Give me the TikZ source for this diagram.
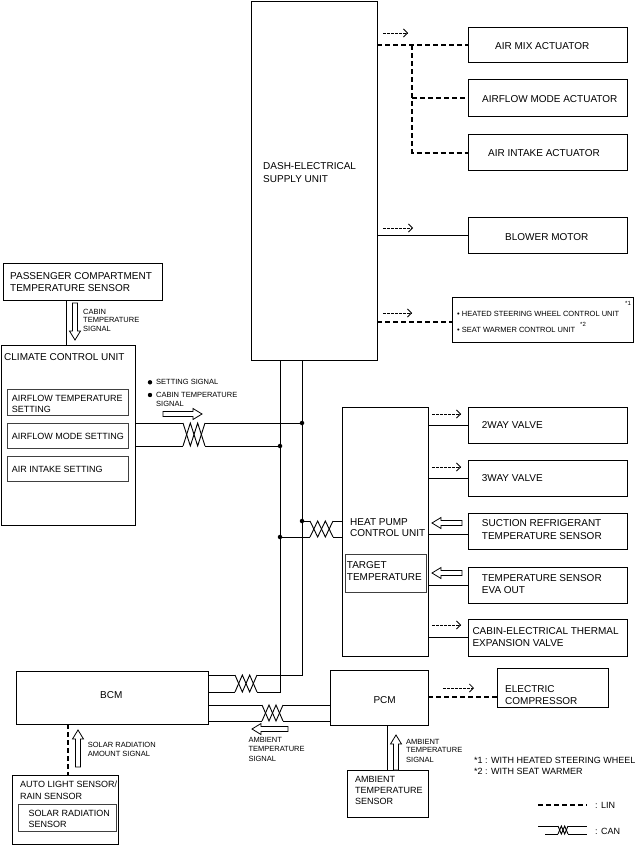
\documentclass[tikz,border=0pt]{standalone}
\usepackage{fontspec}
\setmainfont{Liberation Sans}
\usetikzlibrary{arrows.meta,calc}
\tikzset{
  box/.style={draw, line width=1pt, inner sep=0pt, outer sep=0pt, rectangle},
  subbox/.style={box, draw=black!75},
  wire/.style={line width=0.9pt},
  lin/.style={line width=2pt, dash pattern=on 5pt off 3pt},
  sig/.style={line width=0.7pt, dash pattern=on 2.5pt off 1.5pt, -{Straight Barb[length=4pt,width=8pt,line width=0.8pt]}},
  barrow/.style={line width=0.8pt, line join=miter, fill=white},
  txt/.style={inner sep=0pt, anchor=base west, font=\fontsize{10}{12}\selectfont},
  mid/.style={inner sep=0pt, anchor=base west, font=\fontsize{9}{11}\selectfont},
  sm/.style={inner sep=0pt, anchor=base west, font=\fontsize{7.5}{9}\selectfont},
  fn/.style={inner sep=0pt, anchor=base west, font=\fontsize{9}{11}\selectfont},
  supr/.style={inner sep=0pt, anchor=base west, font=\fontsize{6}{7}\selectfont},
  jdot/.style={circle, fill, inner sep=0pt, minimum size=4.5pt}
}
\newcommand\bx[6][box]{\node[#1,minimum width={(#5-#3)*1pt},minimum height={(#6-#4)*1pt}] (#2) at ({(#3+#5)/2},{(#4+#6)/2}) {};}
\newcommand\tx[5][txt]{\node[#1] (#2) at (#3,#4) {#5};}
% twist between named coords: top-left, top-right, bottom-left, bottom-right
\newcommand\twistc[4]{%
  \draw[wire] (#1) -- ($(#3)!1/3!(#4)$) -- ($(#1)!2/3!(#2)$) -- (#4);
  \draw[wire] (#3) -- ($(#1)!1/3!(#2)$) -- ($(#3)!2/3!(#4)$) -- (#2);}
% block arrows
\newcommand\rarr[3]{\draw[barrow] (#1,#3-2.5) -- (#2-9,#3-2.5) -- (#2-9,#3-5.5) -- (#2,#3) -- (#2-9,#3+5.5) -- (#2-9,#3+2.5) -- (#1,#3+2.5) -- cycle;}
\newcommand\larr[3]{\draw[barrow] (#1,#3) -- (#1+9,#3-5.5) -- (#1+9,#3-2.5) -- (#2,#3-2.5) -- (#2,#3+2.5) -- (#1+9,#3+2.5) -- (#1+9,#3+5.5) -- cycle;}
\newcommand\uarr[3]{\draw[barrow] (#1,#2) -- (#1+5.5,#2+9) -- (#1+2.5,#2+9) -- (#1+2.5,#3) -- (#1-2.5,#3) -- (#1-2.5,#2+9) -- (#1-5.5,#2+9) -- cycle;}
\newcommand\darr[3]{\draw[barrow] (#1,#3) -- (#1+5.5,#3-9) -- (#1+2.5,#3-9) -- (#1+2.5,#2) -- (#1-2.5,#2) -- (#1-2.5,#3-9) -- (#1-5.5,#3-9) -- cycle;}
\begin{document}
\begin{tikzpicture}[x=1pt,y=-1pt]
\useasboundingbox (0,0) rectangle (640,845);
% ---------- boxes
\bx{desu}{251}{1.5}{377}{360}
\bx{amix}{468}{28}{627}{63}
\bx{afm}{468}{80}{627}{117}
\bx{ain}{468}{135}{627}{171}
\bx{blow}{468}{217}{627}{253}
\bx{heat}{452}{297}{633}{342}
\bx{pcts}{3}{263}{162}{300}
\bx{ccu}{1}{345}{135}{525}
\bx[subbox]{s1}{7}{389}{128}{415}
\bx[subbox]{s2}{7}{423}{128}{448}
\bx[subbox]{s3}{7}{456}{128}{481}
\bx{hp}{342}{407}{428}{656}
\bx[subbox]{tgt}{345}{554}{426}{592}
\bx{v2}{468}{407}{627}{443}
\bx{v3}{468}{460}{627}{496}
\bx{suc}{468}{513}{627}{549}
\bx{eva}{468}{567}{627}{603}
\bx{cet}{468}{619}{627}{656}
\bx{bcm}{16}{671}{208}{724}
\bx{pcm}{330}{670}{428}{725}
\bx{ec}{497}{668}{608}{707}
\bx{als}{12}{775}{118}{844}
\bx[subbox]{srs}{18}{804}{116}{831}
\bx{ats}{347}{770}{428}{817}
% ---------- texts
\tx{t1}{263}{170}{DASH-ELECTRICAL}
\tx{t2}{263}{182.5}{SUPPLY UNIT}
\tx{t3}{495}{50}{AIR MIX ACTUATOR}
\tx{t4}{482}{102.3}{AIRFLOW MODE ACTUATOR}
\tx{t5}{488}{156.5}{AIR INTAKE ACTUATOR}
\tx{t6}{505}{240.7}{BLOWER MOTOR}
\tx[sm]{t7}{457}{316.7}{• HEATED STEERING WHEEL CONTROL UNIT}
\tx[supr]{t8}{625}{305}{*1}
\tx[sm]{t9}{457}{332.7}{• SEAT WARMER CONTROL UNIT}
\tx[supr]{t10}{580}{326.7}{*2}
\tx{t11}{10}{279}{PASSENGER COMPARTMENT}
\tx{t12}{10}{291}{TEMPERATURE SENSOR}
\tx[sm]{t13}{83}{314}{CABIN}
\tx[sm]{t14}{83}{322.7}{TEMPERATURE}
\tx[sm]{t15}{83}{331}{SIGNAL}
\tx{t16}{4}{360.7}{CLIMATE CONTROL UNIT}
\tx[mid]{t17}{11.7}{401}{AIRFLOW TEMPERATURE}
\tx[mid]{t18}{11.7}{412}{SETTING}
\tx[mid]{t19}{11.7}{439.5}{AIRFLOW MODE SETTING}
\tx[mid]{t20}{11.7}{472}{AIR INTAKE SETTING}
\tx[sm]{t21}{156}{384.7}{SETTING SIGNAL}
\tx[sm]{t22}{156}{397.7}{CABIN TEMPERATURE}
\tx[sm]{t23}{156}{406.7}{SIGNAL}
\tx{t24}{350}{525}{HEAT PUMP}
\tx{t25}{350}{536.7}{CONTROL UNIT}
\tx{t26}{346.7}{568.3}{TARGET}
\tx{t27}{346.7}{580}{TEMPERATURE}
\tx{t28}{481.7}{428.3}{2WAY VALVE}
\tx{t29}{481.7}{481}{3WAY VALVE}
\tx{t30}{481.7}{526.7}{SUCTION REFRIGERANT}
\tx{t31}{481.7}{539}{TEMPERATURE SENSOR}
\tx{t32}{481.7}{581}{TEMPERATURE SENSOR}
\tx{t33}{481.7}{593.3}{EVA OUT}
\tx{t34}{472.3}{634}{CABIN-ELECTRICAL THERMAL}
\tx{t35}{472.3}{646}{EXPANSION VALVE}
\tx{t36}{100}{698.3}{BCM}
\tx[sm]{t37}{87.7}{747.7}{SOLAR RADIATION}
\tx[sm]{t38}{87.7}{756}{AMOUNT SIGNAL}
\tx[mid]{t39}{20}{787.7}{AUTO LIGHT SENSOR/}
\tx[mid]{t40}{20}{799.3}{RAIN SENSOR}
\tx[mid]{t41}{28.3}{816.7}{SOLAR RADIATION}
\tx[mid]{t42}{28.3}{827.7}{SENSOR}
\tx[sm]{t43}{248.3}{742.7}{AMBIENT}
\tx[sm]{t44}{248.3}{751.7}{TEMPERATURE}
\tx[sm]{t45}{248.3}{761}{SIGNAL}
\tx{t46}{373.3}{703.3}{PCM}
\tx{t47}{505}{692.7}{ELECTRIC}
\tx{t48}{505}{704.3}{COMPRESSOR}
\tx[sm]{t49}{406}{744.3}{AMBIENT}
\tx[sm]{t50}{406}{752.7}{TEMPERATURE}
\tx[sm]{t51}{406}{762}{SIGNAL}
\tx[mid]{t52}{355}{782.7}{AMBIENT}
\tx[mid]{t53}{355}{793.7}{TEMPERATURE}
\tx[mid]{t54}{355}{804.7}{SENSOR}
\tx[fn]{t55}{474}{763.3}{*1 : WITH HEATED STEERING WHEEL}
\tx[fn]{t56}{474}{774}{*2 : WITH SEAT WARMER}
\tx[fn]{t57}{595}{808.3}{: LIN}
\tx[fn]{t58}{595}{834}{: CAN}
% ---------- LIN connectors
\coordinate (b1) at (412,45.5);
\coordinate (b2) at (412,98.5);
\coordinate (b3) at (412,153);
\draw[lin] (desu.east |- amix.west) -- (amix.west);
\draw[lin] (b1) -- (b3) -- (ain.west |- b3);
\draw[lin] (b2) -- (afm.west |- b2);
\coordinate (hl) at (400,322);
\draw[lin] (desu.east |- hl) -- (heat.west |- hl);
\coordinate (pl) at (460,697);
\draw[lin] (pcm.east |- pl) -- (ec.west |- pl);
\coordinate (sl) at (68,750);
\draw[lin] (bcm.south -| sl) -- (als.north -| sl);
% ---------- solid connectors
\draw[wire] (desu.east |- blow.west) -- (blow.west);
\draw[wire] (hp.east |- v2.west) -- (v2.west);
\draw[wire] (hp.east |- v3.west) -- (v3.west);
\coordinate (sc) at (450,534);
\draw[wire] (hp.east |- sc) -- (suc.west |- sc);
\draw[wire] (hp.east |- eva.west) -- (eva.west);
\draw[wire] (hp.east |- cet.west) -- (cet.west);
\coordinate (pc) at (66,320);
\draw[wire] (pcts.south -| pc) -- (ccu.north -| pc);
\coordinate (al) at (387,750);
\draw[wire] (pcm.south -| al) -- (ats.north -| al);
% ---------- CAN bus
\node[jdot] (j1) at (302,423) {};
\node[jdot] (j2) at (280,446) {};
\node[jdot] (j3) at (302,521) {};
\node[jdot] (j4) at (280,537) {};
\coordinate (c1) at (302,675);
\coordinate (c2) at (280,692);
% CCU twist
\coordinate (a1) at (183,423); \coordinate (a2) at (205,423);
\coordinate (a3) at (183,446); \coordinate (a4) at (205,446);
\draw[wire] (ccu.east |- a1) -- (a1);
\draw[wire] (ccu.east |- a3) -- (a3);
\twistc{a1}{a2}{a3}{a4}
\draw[wire] (a2) -- (j1.center);
\draw[wire] (a4) -- (j2.center);
% HP twist
\coordinate (h1) at (310,521); \coordinate (h2) at (333,521);
\coordinate (h3) at (310,537); \coordinate (h4) at (333,537);
\draw[wire] (j3.center) -- (h1);
\draw[wire] (j4.center) -- (h3);
\twistc{h1}{h2}{h3}{h4}
\draw[wire] (h2) -- (hp.west |- h2);
\draw[wire] (h4) -- (hp.west |- h4);
% BCM to bus twist
\coordinate (k1) at (235,675); \coordinate (k2) at (257,675);
\coordinate (k3) at (235,692); \coordinate (k4) at (257,692);
\draw[wire] (bcm.east |- k1) -- (k1);
\draw[wire] (bcm.east |- k3) -- (k3);
\twistc{k1}{k2}{k3}{k4}
\draw[wire] (k2) -- (c1) -- (desu.south -| c1);
\draw[wire] (k4) -- (c2) -- (desu.south -| c2);
% BCM to PCM twist
\coordinate (m1) at (262,705); \coordinate (m2) at (283,705);
\coordinate (m3) at (262,721); \coordinate (m4) at (283,721);
\draw[wire] (bcm.east |- m1) -- (m1);
\draw[wire] (bcm.east |- m3) -- (m3);
\twistc{m1}{m2}{m3}{m4}
\draw[wire] (m2) -- (pcm.west |- m2);
\draw[wire] (m4) -- (pcm.west |- m4);
% ---------- signal arrows (dashed)
\draw[sig] (383,33) -- (408,33);
\draw[sig] (383,228) -- (413,228);
\draw[sig] (383,313) -- (412,313);
\draw[sig] (432,414) -- (461,414);
\draw[sig] (432,467) -- (461,467);
\draw[sig] (432,625) -- (461,625);
\draw[sig] (443,688) -- (474,688);
% ---------- block arrows
\darr{75}{303}{340}
\rarr{163}{202}{414}
\larr{432}{462}{523}
\larr{432}{462}{573}
\uarr{78}{730}{767}
\larr{252}{288}{729}
\uarr{396}{735}{770}
% bullets
\fill (150,382.3) circle (2.2pt);
\fill (150,395) circle (2.2pt);
% ---------- legend
\coordinate (lg1) at (538,805); \coordinate (lg2) at (587,805);
\draw[lin] (lg1) -- (lg2);
\coordinate (n1) at (558,826); \coordinate (n2) at (568,826);
\coordinate (n3) at (558,834); \coordinate (n4) at (568,834);
\coordinate (n5) at (538,826); \coordinate (n6) at (587,826);
\coordinate (n7) at (545,834); \coordinate (n8) at (587,834);
\draw[wire] (n5) -- (n1); \draw[wire] (n2) -- (n6);
\draw[wire] (n7) -- (n3); \draw[wire] (n4) -- (n8);
\twistc{n1}{n2}{n3}{n4}
\end{tikzpicture}
\end{document}
